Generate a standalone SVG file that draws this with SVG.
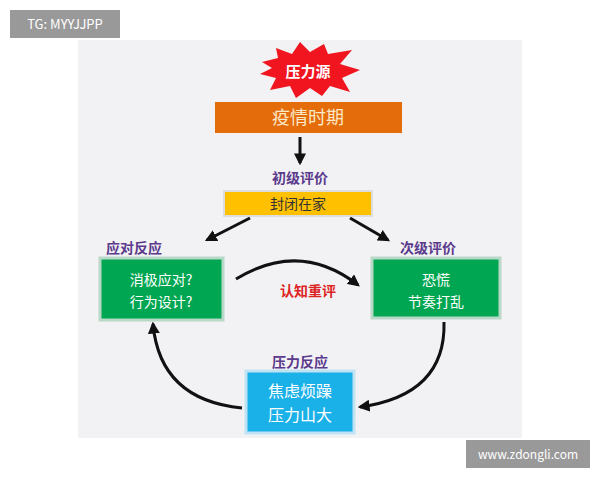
<svg xmlns="http://www.w3.org/2000/svg" width="600" height="480" viewBox="0 0 600 480">
<style>
text{font-family:"Noto Sans CJK SC","Liberation Sans",sans-serif;text-anchor:middle}
.lbl{fill:#5b3a8c;font-size:14px;font-weight:bold}
.w{fill:#fff;font-size:14px}
.c{fill:none;stroke:#111;stroke-width:3}
.g{fill:#00a651;stroke:#b8d8c8;stroke-width:3}
</style>
<defs><marker id="a" viewBox="0 0 10 10" refX="8" refY="5" markerWidth="4" markerHeight="4" orient="auto"><path d="M0,0L10,5L0,10z" fill="#111"/></marker></defs>
<rect width="600" height="480" fill="#fff"/>
<rect x="78" y="40" width="444" height="398" fill="#f2f2f4"/>
<g id="tag"><rect x="10" y="10" width="110" height="28" fill="#999"/><text x="65" y="29" fill="#fff" font-size="13" style="text-anchor:middle">TG: MYYJJPP</text></g>
<g id="url"><rect x="466" y="440" width="124" height="28" fill="#999"/><text x="528" y="459" fill="#fff" font-size="12">www.zdongli.com</text></g>
<g id="burst"><polygon points="262,62 278,58 276,48 292,54 300,42 310,52 324,44 328,54 352,50 340,64 360,70 342,78 350,92 330,86 322,96 310,88 296,98 290,86 270,90 276,78 260,74 272,68" fill="#f0151f"/><text x="308" y="77" fill="#fff" font-size="15" font-weight="bold">压力源</text></g>
<g id="n1"><rect x="215" y="102" width="187" height="31" fill="#e46c0a"/><text x="308" y="124" fill="#fbe9c8" font-size="18">疫情时期</text></g>
<text class="lbl" x="300" y="183">初级评价</text>
<g id="n2"><rect x="224" y="191" width="148" height="25" fill="#ffc000" stroke="#ddd" stroke-width="2"/><text x="298" y="209" fill="#333" font-size="14">封闭在家</text></g>
<text class="lbl" x="134" y="253">应对反应</text>
<text class="lbl" x="428" y="253">次级评价</text>
<g id="n3"><rect x="100" y="258" width="123" height="62" class="g"/><text class="w" x="161" y="285">消极应对?</text><text class="w" x="161" y="307">行为设计?</text></g>
<g id="n4"><rect x="372" y="258" width="128" height="60" class="g"/><text class="w" x="436" y="285">恐慌</text><text class="w" x="436" y="307">节奏打乱</text></g>
<text class="lbl" x="300" y="367">压力反应</text>
<g id="n5"><rect x="246" y="371" width="108" height="62" fill="#1ab0e8" stroke="#bfe3f2" stroke-width="3"/><text x="300" y="397" fill="#fff" font-size="16">焦虑烦躁</text><text x="300" y="421" fill="#fff" font-size="16">压力山大</text></g>
<text x="308" y="296" fill="#d22" font-size="14" font-weight="bold">认知重评</text>
<g id="connectors">
<line class="c" x1="300" y1="137" x2="300" y2="163" marker-end="url(#a)"/>
<line class="c" x1="250" y1="218" x2="207" y2="240" marker-end="url(#a)"/>
<line class="c" x1="350" y1="218" x2="388" y2="240" marker-end="url(#a)"/>
<path class="c" d="M236,279 Q300,240 358,285" marker-end="url(#a)"/>
<path class="c" d="M444,322 Q446,395 360,407" marker-end="url(#a)"/>
<path class="c" d="M242,408 Q160,400 153,324" marker-end="url(#a)"/>
</g>
</svg>
